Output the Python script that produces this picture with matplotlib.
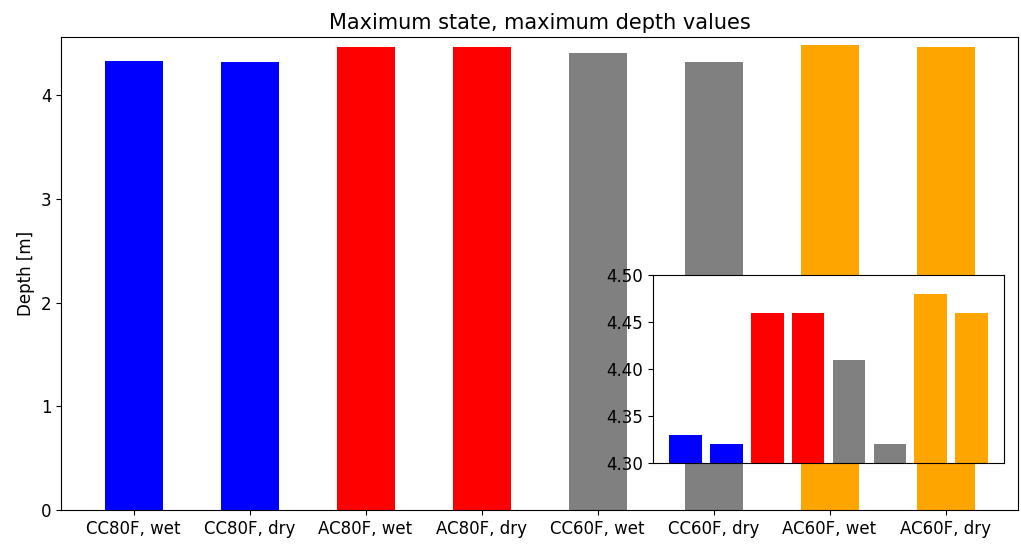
import numpy as np
import matplotlib
matplotlib.use("Agg")
import matplotlib.pyplot as plt

# case names and max depth values
cases = ['CC80F, wet', 'CC80F, dry', 'AC80F, wet', 'AC80F, dry',
         'CC60F, wet', 'CC60F, dry', 'AC60F, wet', 'AC60F, dry']
depths = [4.33, 4.32, 4.46, 4.46, 4.41, 4.32, 4.48, 4.46]
colors = ['blue', 'blue', 'red', 'red', 'grey', 'grey', 'orange', 'orange']

fig = plt.figure(figsize=(10.21, 5.46), dpi=100)
ax = fig.add_axes([61/1021, 36/546, 957/1021, 473/546])

x = np.arange(len(cases))
ax.bar(x, depths, width=0.5, color=colors)
ax.set_xticks(x)
ax.set_xticklabels(cases, fontsize=12)
ax.tick_params(axis='y', labelsize=12)
ax.set_ylim(0, 4.56)
ax.set_ylabel('Depth [m]', fontsize=12)
ax.set_title('Maximum state, maximum depth values', fontsize=15)

# zoomed inset
axin = fig.add_axes([653/1021, 83/546, 351/1021, 188/546])
axin.bar(x, depths, width=0.8, color=colors)
axin.set_ylim(4.30, 4.50)
axin.set_yticks([4.30, 4.35, 4.40, 4.45, 4.50])
axin.set_yticklabels(['4.30', '4.35', '4.40', '4.45', '4.50'], fontsize=12)
axin.set_xticks([])

fig.savefig('out.png', dpi=100)
